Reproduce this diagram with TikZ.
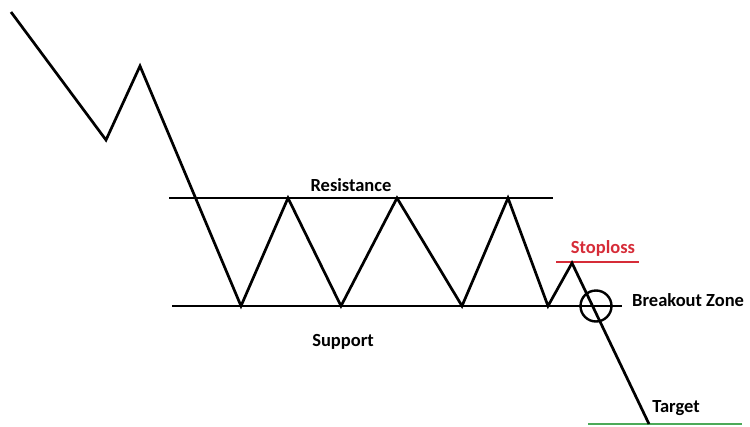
\documentclass[tikz,border=0pt]{standalone}
\usepackage{fontspec}
\setmainfont{Carlito}
\definecolor{stopred}{RGB}{214,44,56}
\definecolor{targetgreen}{RGB}{76,170,88}
\begin{document}
\begin{tikzpicture}[x=1pt,y=-1pt,
  level/.style={line width=2.7pt},
  price/.style={line width=2.7pt, line join=miter},
  lbl/.style={font=\bfseries\fontsize{18.5}{20}\selectfont, inner sep=0pt}]
\useasboundingbox (0,0) rectangle (750,426);

% price path turning points
\coordinate (p0) at (11,12);
\coordinate (p1) at (106,140);
\coordinate (p2) at (140,66);
\coordinate (p3) at (241,306);
\coordinate (p4) at (288,198);
\coordinate (p5) at (341,306);
\coordinate (p6) at (397,198);
\coordinate (p7) at (462,306);
\coordinate (p8) at (508,198);
\coordinate (p9) at (548,306);
\coordinate (p10) at (572,263);
\coordinate (p11) at (649,424);

% level line ends
\coordinate (resA) at (169,198);
\coordinate (resB) at (553,198);
\coordinate (supA) at (172,306);
\coordinate (supB) at (622,306);
\coordinate (stopA) at (556,262);
\coordinate (stopB) at (639,262);
\coordinate (tgtA) at (588,424);
\coordinate (tgtB) at (742,424);

% horizontal levels
\draw[level] (resA) -- (resB);
\draw[level] (supA) -- (supB);
\draw[level, stopred] (stopA) -- (stopB);
\draw[level, targetgreen] (tgtA) -- (tgtB);

% price movement
\draw[price] (p0) -- (p1) -- (p2) -- (p3) -- (p4) -- (p5) -- (p6) -- (p7)
  -- (p8) -- (p9) -- (p10) -- (p11);

% breakout marker
\node[draw, circle, line width=2.4pt, minimum size=31pt, inner sep=0pt] (brk) at (596,306) {};

% labels
\node[lbl] (resistance) at (351,185) {Resistance};
\node[lbl] (support) at (343,342) {Support};
\node[lbl, text=stopred] (stoploss) at (603,248) {Stoploss};
\node[lbl, anchor=west] (breakout) at (632,300) {Breakout Zone};
\node[lbl] (target) at (676,408) {Target};
\end{tikzpicture}
\end{document}
